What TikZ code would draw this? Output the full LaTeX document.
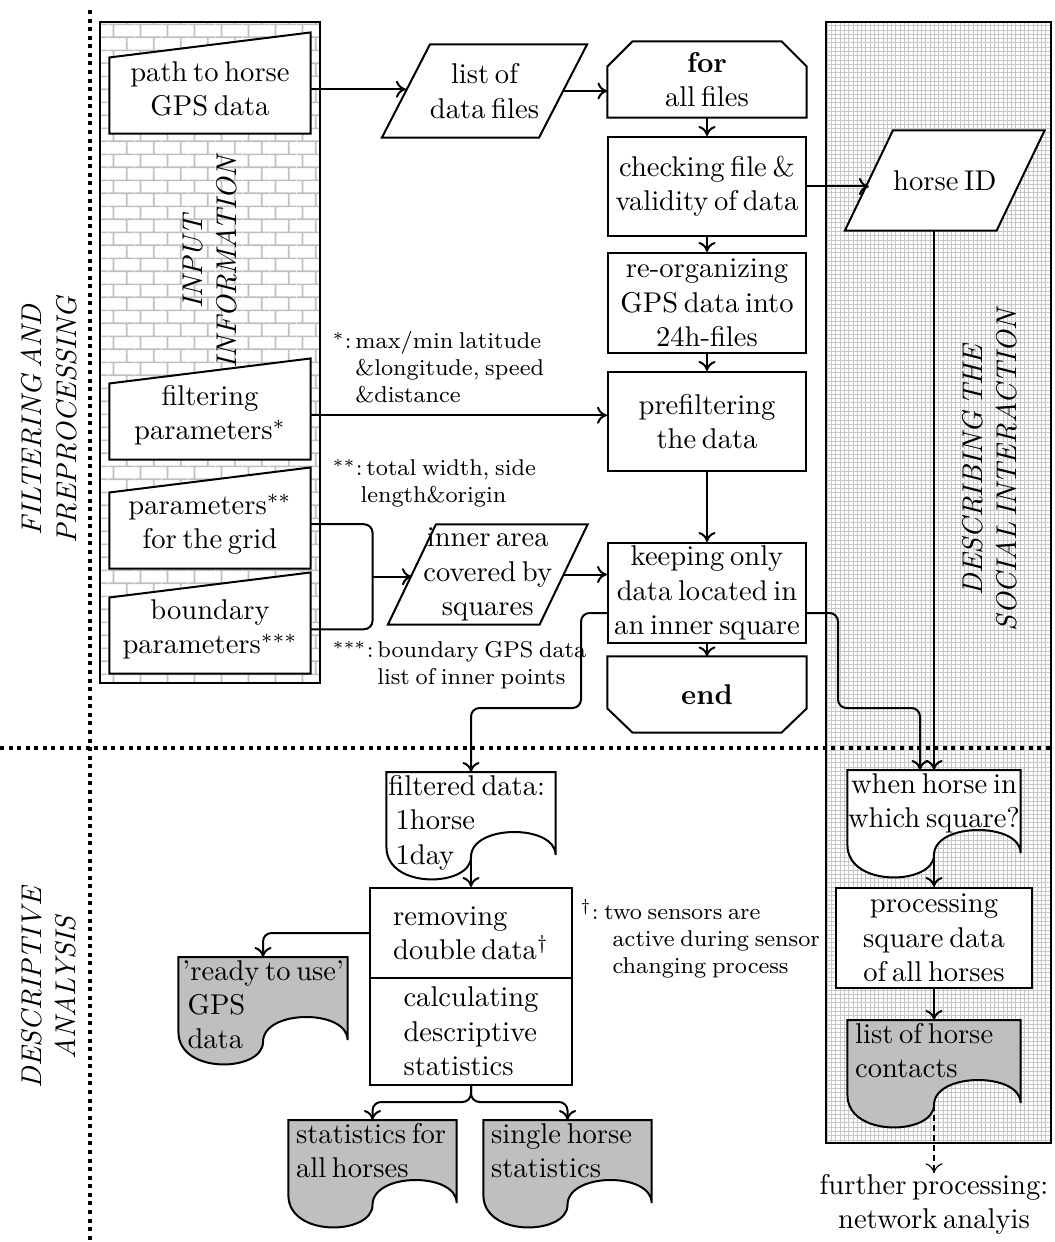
\documentclass[tikz,border=0pt]{standalone}
\usetikzlibrary{calc,arrows.meta,patterns.meta}

\pgfdeclarelayer{tiles}
\pgfdeclarelayer{shapes}
\pgfsetlayers{tiles,shapes,main}

\tikzdeclarepattern{
  name=brickwall, type=uncolored,
  bounding box={(0pt,0pt) and (9.5pt,9.2pt)},
  tile size={(9.5pt,9.2pt)},
  code={
    \draw[line width=0.6pt] (0pt,1pt) -- (9.5pt,1pt) (0pt,5.6pt) -- (9.5pt,5.6pt)
      (2pt,1pt) -- (2pt,5.6pt) (6.75pt,5.6pt) -- (6.75pt,9.2pt) (6.75pt,0pt) -- (6.75pt,1pt);
  }
}

% outlines drawn from the anchors of the named nodes
\newcommand\manualshape[1]{%
  \draw[shapeline] (#1.south west) -- ($(#1.north west)+(0,12.5)$)
    -- ($(#1.north east)+(0,-12.5)$) -- (#1.south east) -- cycle;}
\newcommand\slantshape[1]{%
  \draw[shapeline] ($(#1.south west)+(-24,0)$) -- ($(#1.north west)+(24,0)$)
    -- ($(#1.north east)+(24,0)$) -- ($(#1.south east)+(-24,0)$) -- cycle;}
\newcommand\looptop[1]{%
  \draw[shapeline] (#1.south west) -- ($(#1.north west)+(0,25)$) -- ($(#1.north west)+(25,0)$)
    -- ($(#1.north east)+(-25,0)$) -- ($(#1.north east)+(0,25)$) -- (#1.south east) -- cycle;}
\newcommand\loopbottom[1]{%
  \draw[shapeline] (#1.north west) -- ($(#1.south west)+(0,-24)$) -- ($(#1.south west)+(25,0)$)
    -- ($(#1.south east)+(-25,0)$) -- ($(#1.south east)+(0,-24)$) -- (#1.north east) -- cycle;}
\newcommand\docshape[2]{%
  \draw[shapeline, fill=#2] (#1.north west) -- (#1.north east) -- ($(#1.north east)+(0,83)$)
    .. controls ($(#1.north east)+(0,52)$) and ($(#1.north)+(0,52)$) .. ($(#1.north)+(0,85)$)
    .. controls ($(#1.north)+(0,115)$) and ($(#1.north west)+(0,118)$) .. ($(#1.north west)+(0,75)$) -- cycle;}

\begin{document}
\begin{tikzpicture}[x=0.35pt, y=-0.35pt, >={To[length=3.5pt,width=6pt]},
  every node/.style={inner sep=0pt, execute at begin node={\spaceskip=2pt plus 1pt minus 0.5pt\relax}},
  shapeline/.style={draw, line width=0.7pt, fill=white},
  flow/.style={->, line width=0.7pt},
  procbox/.style={draw, line width=0.7pt, fill=white, minimum width=69.3pt, align=center},
  loopbox/.style={minimum width=69.3pt, minimum height=26.25pt, align=center},
  manual/.style={minimum width=70pt, minimum height=30.6pt, align=center},
  slanted/.style={minimum height=34.65pt, align=center},
  doc/.style={anchor=north, align=left, inner xsep=2.5pt, inner ysep=1pt},
  note/.style={font=\footnotesize, align=left, anchor=north west},
  secttitle/.style={rotate=90, font=\itshape, align=center},
  dotsep/.style={line width=1.4pt, dash pattern=on 1.4pt off 1.6pt}]
  \definecolor{docgray}{rgb}{0.75,0.75,0.75}
  \useasboundingbox (0,0) rectangle (1054,1242);

  \begin{pgfonlayer}{tiles}
    \fill[pattern=brickwall, pattern color=black!25] (100,22) rectangle (320,683);
    \draw[line width=0.7pt] (100,22) rectangle (320,683);
    \draw[black!22, line width=0.25pt, step=1.5pt] (826,22) grid (1051,1143);
    \draw[line width=0.7pt] (826,22) rectangle (1051,1143);
  \end{pgfonlayer}

  \node[secttitle] (filtsec) at (49,420) {FILTERING AND\\PREPROCESSING};
  \node[secttitle] (descsec) at (49,988) {DESCRIPTIVE\\ANALYSIS};
  \node[secttitle] (inputsec) at (210,262) {INPUT\\INFORMATION};
  \node[secttitle] (socialsec) at (990,470) {DESCRIBING THE\\SOCIAL INTERACTION};

  % input information
  \node[manual] (pathgps) at (210,89.25) {path to horse\\GPS data};
  \node[manual] (filtpar) at (210,415.25) {filtering\\parameters$^{*}$};
  \node[manual] (gridpar) at (210,524.25) {parameters$^{**}$\\for the grid};
  \node[manual] (boundpar) at (210,629.25) {boundary\\parameters$^{***}$};

  % filtering column
  \node[slanted, minimum width=54.6pt, minimum height=32.2pt] (listfiles) at (484.5,91) {list of\\data files};
  \node[loopbox] (forall) at (707,79.5) {\textbf{for}\\all files};
  \node[procbox, minimum height=34.65pt] (checking) at (707,186.5) {checking file \&\\validity of data};
  \node[procbox, minimum height=35pt] (reorg) at (707,303) {re-organizing\\GPS data into\\24h-files};
  \node[procbox, minimum height=34.65pt] (prefilt) at (707,421.5) {prefiltering\\the data};
  \node[procbox, minimum height=35pt] (keeping) at (707,593) {keeping only\\data located in\\an inner square};
  \node[loopbox] (finish) at (707,694.5) {\textbf{end}};
  \node[slanted, minimum width=52.7pt] (innerarea) at (487.75,574.5) {inner area\\covered by\\squares};
  \node[slanted, minimum width=52.7pt] (horseid) at (944.75,180.5) {horse ID};

  \node[note] (note1) at (332,331) {$^{*}$:\,max/min latitude\\\hspace*{8pt}\&longitude, speed\\\hspace*{8pt}\&distance};
  \node[note] (note2) at (332,459) {$^{**}$:\,total width, side\\\hspace*{9.8pt}length\&origin};
  \node[note] (note3) at (332,641) {$^{***}$:\,boundary GPS data\\\hspace*{15.7pt}list of inner points};
  \node[note] (note4) at (580,899) {$^{\dagger}$:\ two sensors are\\\hspace*{11.2pt}active during sensor\\\hspace*{11.2pt}changing process};

  % descriptive analysis
  \node[doc, text width=57.8pt, inner xsep=0.5pt] (filtdata) at (471,772) {filtered data:\\\hspace*{2.5pt}1horse\\\hspace*{2.5pt}1day};
  \node[procbox, minimum width=70.7pt, minimum height=31.5pt, align=left] (remove) at (471,933) {removing\\double data$^{\dagger}$};
  \node[procbox, minimum width=70.7pt, minimum height=37.45pt, align=left] (calcstat) at (471,1031.5) {calculating\\descriptive\\statistics};
  \node[doc, text width=58.8pt, inner xsep=0pt] (ready) at (263,957) {\hspace*{1.2pt}\mbox{'ready to use'}\\\hspace*{3pt}GPS\\\hspace*{3pt}data};
  \node[doc, text width=53.5pt] (statall) at (372.5,1120) {statistics for\\all horses};
  \node[doc, text width=53.5pt] (single) at (567.5,1120) {single horse\\statistics};

  % social interaction
  \node[doc, text width=60.2pt, inner xsep=0pt, align=center] (whensq) at (934,770) {when horse in\\which square?};
  \node[procbox, minimum width=68.6pt, minimum height=35pt] (procsq) at (934,938) {processing\\square data\\of all horses};
  \node[doc, text width=55.2pt] (contacts) at (934,1020) {list of horse\\contacts};
  \node[align=center] (further) at (934,1204) {further processing:\\network analyis};

  \begin{pgfonlayer}{shapes}
    \manualshape{pathgps}
    \manualshape{filtpar}
    \manualshape{gridpar}
    \manualshape{boundpar}
    \slantshape{listfiles}
    \slantshape{innerarea}
    \slantshape{horseid}
    \looptop{forall}
    \loopbottom{finish}
    \docshape{filtdata}{white}
    \docshape{whensq}{white}
    \docshape{ready}{docgray}
    \docshape{statall}{docgray}
    \docshape{single}{docgray}
    \docshape{contacts}{docgray}
  \end{pgfonlayer}

  \draw[flow] (pathgps.east) -- (pathgps.east -| listfiles.west);
  \draw[flow] (listfiles.east) -- (listfiles.east -| forall.west);
  \draw[flow] (forall.south) -- (checking.north);
  \draw[flow] (checking.south) -- (reorg.north);
  \draw[flow] (reorg.south) -- (prefilt.north);
  \draw[flow] (prefilt.south) -- (keeping.north);
  \draw[flow] (keeping.south) -- (finish.north);
  \draw[flow] (checking.east) -- (checking.east -| horseid.west);
  \draw[flow] (filtpar.east) -- (filtpar.east -| prefilt.west);
  \coordinate (gridjoin) at ($(gridpar.east)!0.5!(boundpar.east)+(62,0)$);
  \draw[line width=0.7pt, rounded corners=3pt] (gridpar.east) -| (gridjoin) |- (boundpar.east);
  \draw[flow] (gridjoin) -- (gridjoin -| innerarea.west);
  \draw[flow] (innerarea.east) -- (innerarea.east -| keeping.west);
  \draw[flow, rounded corners=3pt] ($(keeping.west)+(0,20)$) -- ++(-26,0) |- ($(filtdata.north)+(0,-64)$) -- (filtdata.north);
  \draw[flow, rounded corners=3pt] ($(keeping.east)+(0,20)$) -- ++(31,0) |- ($(whensq.north)+(-14,-62)$) -- ($(whensq.north)+(-14,0)$);
  \draw[flow] (horseid.south -| whensq.north) -- (whensq.north);
  \draw[flow] ($(whensq.north)+(0,85)$) -- (procsq.north);
  \draw[flow] (procsq.south) -- (contacts.north);
  \draw[->, dash pattern=on 2pt off 1.5pt] ($(contacts.north)+(0,85)$) -- (further.north);
  \draw[flow] ($(filtdata.north)+(0,85)$) -- (remove.north);
  \draw[flow, rounded corners=3pt] (remove.west) -| (ready.north);
  \draw[flow, rounded corners=3pt] (calcstat.south) -- ++(0,16) -| (statall.north);
  \draw[flow, rounded corners=3pt] (calcstat.south) -- ++(0,16) -| (single.north);

  \draw[dotsep] (90,10) -- (90,1242);
  \draw[dotsep] (0,748) -- (1054,748);
\end{tikzpicture}
\end{document}
